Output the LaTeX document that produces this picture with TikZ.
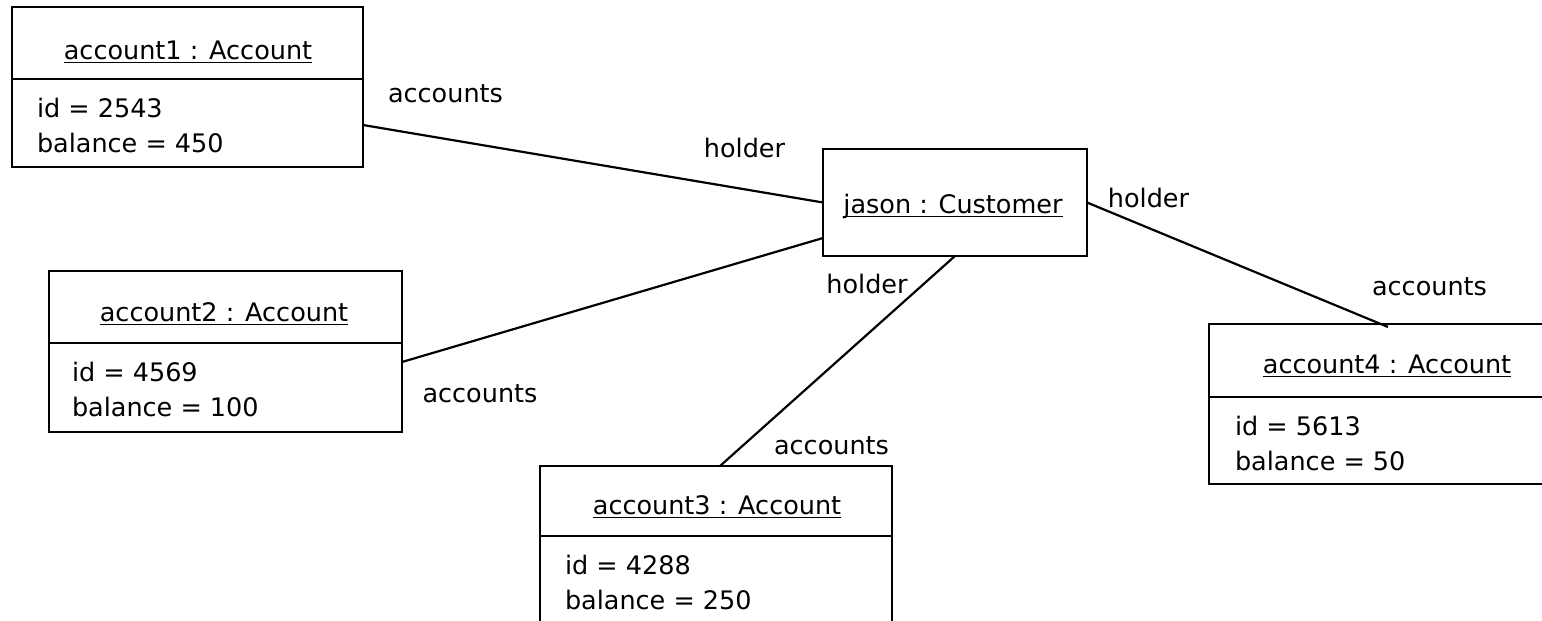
\documentclass[tikz,border=0pt]{standalone}
\usepackage{fontspec}
\setmainfont{DejaVu Sans}
\begin{document}
\begin{tikzpicture}[x=1pt,y=-1pt,
  objbox/.style={draw, line width=2.4pt, inner sep=0pt, outer sep=0pt},
  sepline/.style={line width=2.4pt},
  conn/.style={line width=2.2pt},
  uline/.style={line width=1.7pt},
  txt/.style={inner sep=0pt, outer sep=0pt, font=\fontsize{25.5pt}{30pt}\selectfont},
  lbl/.style={txt, anchor=base},
  attr/.style={txt, anchor=base west}]
\useasboundingbox (0,0) rectangle (1542,621);
\clip (0,0) rectangle (1542,621);
\fill[white] (0,0) rectangle (1542,621);
% boxes
\node[objbox, minimum width=351pt, minimum height=160pt] (a1) at (187.5,87) {};
\node[objbox, minimum width=264pt, minimum height=107pt] (j) at (955,202.5) {};
\node[objbox, minimum width=353pt, minimum height=161pt] (a2) at (225.5,351.5) {};
\node[objbox, minimum width=352pt, minimum height=174pt] (a3) at (716,553) {};
\node[objbox, minimum width=351pt, minimum height=160pt] (a4) at (1384.5,404) {};
% dividers
\draw[sepline] ([yshift=8pt]a1.west) -- ([yshift=8pt]a1.east);
\draw[sepline] ([yshift=8.5pt]a2.west) -- ([yshift=8.5pt]a2.east);
\draw[sepline] ([yshift=17pt]a3.west) -- ([yshift=17pt]a3.east);
\draw[sepline] ([yshift=7pt]a4.west) -- ([yshift=7pt]a4.east);
% titles
\node[lbl] (t1) at (188,59) {account1 : Account};
\node[lbl] (t2) at (224,321) {account2 : Account};
\node[lbl] (t3) at (717,514) {account3 : Account};
\node[lbl] (t4) at (1387,373) {account4 : Account};
\node[lbl] (tj) at (953,213) {jason : Customer};
\foreach \t in {t1,t2,t3,t4,tj}
  \draw[uline] ([yshift=-3.5pt]\t.base west) -- ([yshift=-3.5pt]\t.base east);
% attributes
\node[attr] (a1i) at (37,117) {id = 2543};
\node[attr] (a1b) at (37,152) {balance = 450};
\node[attr] (a2i) at (72,381) {id = 4569};
\node[attr] (a2b) at (72,416) {balance = 100};
\node[attr] (a3i) at (565,574) {id = 4288};
\node[attr] (a3b) at (565,609) {balance = 250};
\node[attr] (a4i) at (1235,435) {id = 5613};
\node[attr] (a4b) at (1235,470) {balance = 50};
% connectors
\draw[conn] ([yshift=-38pt]a1.east) -- (j.west);
\draw[conn] ([yshift=-10.5pt]a2.east) -- ([yshift=-35.5pt]j.west);
\draw[conn] ([xshift=4pt]a3.north) -- (j.south);
\draw[conn] ([xshift=3.5pt,yshift=-3pt]a4.north) -- (j.east);
% role labels
\node[lbl] (r1a) at (445.5,102) {accounts};
\node[lbl] (r1h) at (744.5,157) {holder};
\node[lbl] (r4h) at (1148.5,207) {holder};
\node[lbl] (r4a) at (1429.5,295) {accounts};
\node[lbl] (r2a) at (480,402) {accounts};
\node[lbl] (r3h) at (867,293) {holder};
\node[lbl] (r3a) at (831.5,454) {accounts};
\end{tikzpicture}
\end{document}
